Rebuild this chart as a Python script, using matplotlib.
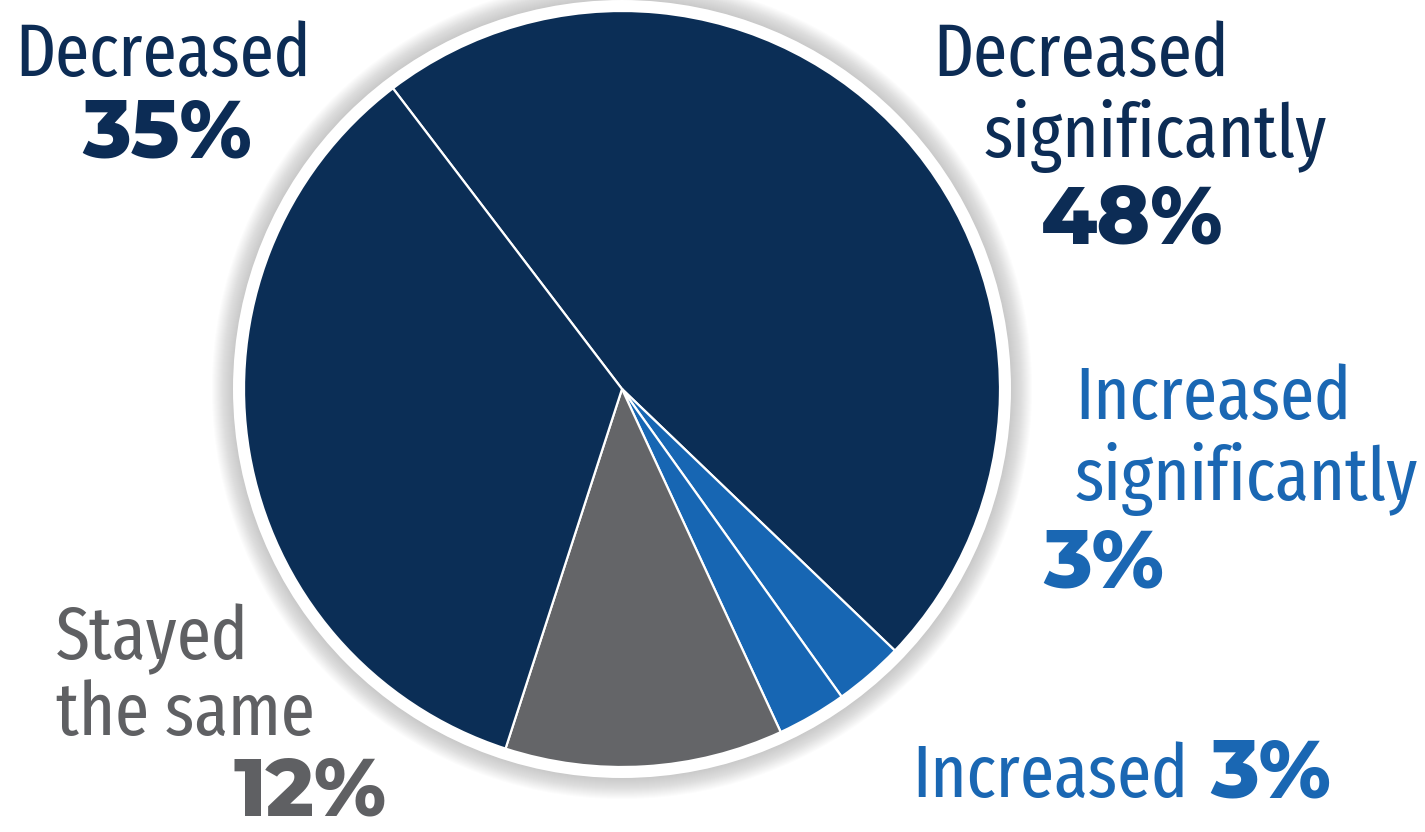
import matplotlib
matplotlib.use("Agg")
import matplotlib.pyplot as plt
from matplotlib.patches import Circle
import numpy as np

# Data
categories = ["Decreased significantly", "Increased significantly", "Increased",
              "Stayed the same", "Decreased"]
values = [48, 3, 3, 12, 35]
slice_colors = ["#0b2e56", "#1766b3", "#1766b3", "#646568", "#0b2e56"]

W, H = 1425, 832
fig = plt.figure(figsize=(W / 100, H / 100), dpi=100)
ax = fig.add_axes([0, 0, 1, 1])

cx, cy, R = 622, H - 389, 378

# soft shadow ring
for i in range(22):
    r = R + 32 - i
    ax.add_patch(Circle((cx, cy), r, color="#a0a0a0", alpha=0.03, lw=0, zorder=1))
ax.add_patch(Circle((cx, cy), R + 11, color="white", lw=0, zorder=2))

wedges, _ = ax.pie(values, colors=slice_colors, startangle=127.3, counterclock=False,
                   center=(cx, cy), radius=R, frame=True,
                   wedgeprops=dict(edgecolor="white", linewidth=1.6))
for w in wedges:
    w.set_zorder(3)
ax.set_xlim(0, W)
ax.set_ylim(0, H)
ax.set_aspect("equal")
ax.axis("off")

NAVY = "#0c2c55"
BLUE = "#1a67b3"
GRAY = "#5f6063"
LAB = dict(family=["Fira Sans Extra Condensed", "Fira Sans Condensed", "DejaVu Sans"],
           fontsize=54, fontweight=400)
PCT = dict(family=["Montserrat Alternates", "Poppins", "DejaVu Sans"], fontsize=58, fontweight=800)

def t(x, y, s, color, ha="left", **kw):
    return ax.text(x, H - y, s, color=color, ha=ha, va="baseline", zorder=5, **kw)

# Decreased (left)
t(163, 76, "Decreased", NAVY, ha="center", **LAB)
t(167, 157, "35%", NAVY, ha="center", **PCT)
# Decreased significantly
t(1081, 76, "Decreased", NAVY, ha="center", **LAB)
t(1155, 157, "significantly", NAVY, ha="center", **LAB)
t(1132, 244, "48%", NAVY, ha="center", **PCT)
# Increased significantly
t(1075, 419, "Increased", BLUE, **LAB)
t(1075, 500, "significantly", BLUE, **LAB)
t(1043, 588, "3%", BLUE, **PCT)
# Stayed the same
t(56, 659, "Stayed", GRAY, **LAB)
t(56, 735, "the same", GRAY, **LAB)
t(310, 816, "12%", GRAY, ha="center", **PCT)
# Increased 3%
inc = t(912, 797, "Increased", BLUE, **LAB)
fig.canvas.draw()
bb = inc.get_window_extent()
x_end = ax.transData.inverted().transform((bb.x1, 0))[0]
t(x_end + 22, 797, "3%", BLUE, **PCT)

fig.savefig("out.png", dpi=100, facecolor="white")
